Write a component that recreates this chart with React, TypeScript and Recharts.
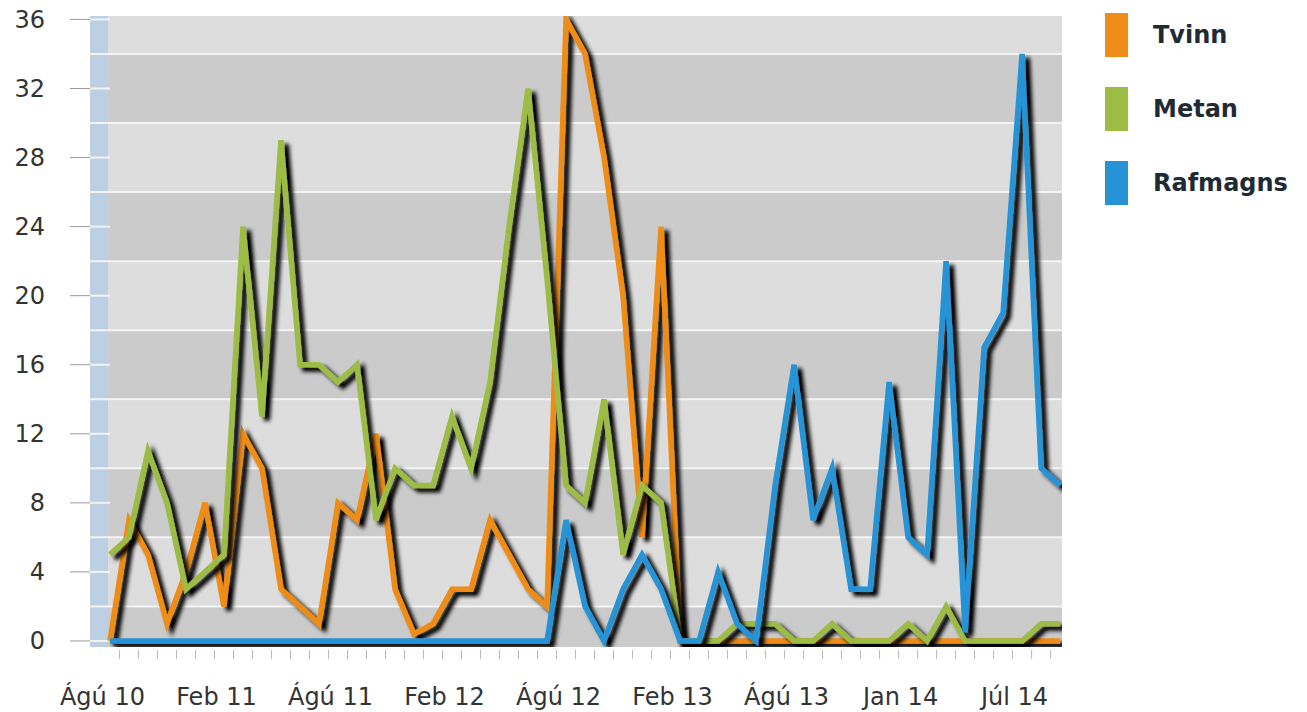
import React from 'react';
import { LineChart, Line, XAxis, YAxis, ReferenceArea, ReferenceLine, Legend } from 'recharts';

const months = [
  'Ágú 10', 'Sep 10', 'Okt 10', 'Nóv 10', 'Des 10', 'Jan 11', 'Feb 11', 'Mar 11', 'Apr 11', 'Maí 11', 'Jún 11', 'Júl 11',
  'Ágú 11', 'Sep 11', 'Okt 11', 'Nóv 11', 'Des 11', 'Jan 12', 'Feb 12', 'Mar 12', 'Apr 12', 'Maí 12', 'Jún 12', 'Júl 12',
  'Ágú 12', 'Sep 12', 'Okt 12', 'Nóv 12', 'Des 12', 'Jan 13', 'Feb 13', 'Mar 13', 'Apr 13', 'Maí 13', 'Jún 13', 'Júl 13',
  'Ágú 13', 'Sep 13', 'Okt 13', 'Nóv 13', 'Des 13', 'Des 13', 'Jan 14', 'Feb 14', 'Mar 14', 'Apr 14', 'Maí 14', 'Jún 14',
  'Júl 14', 'Ágú 14', 'Sep 14',
];

const tvinn = [
  0, 7, 5, 1, 4, 8, 2, 12, 10, 3, 2, 1, 8, 7, 12, 3, 0.4, 1, 3, 3, 7, 5, 3, 2,
  36, 34, 28, 20, 6, 24, 0, 0, 0, 0, 0, 0, 0, 0, 0, 0, 0, 0, 0, 0, 0, 0, 0, 0, 0, 0, 0,
];

const metan = [
  5, 6, 11, 8, 3, 4, 5, 24, 13, 29, 16, 16, 15, 16, 7, 10, 9, 9, 13, 10, 15, 24, 32, 21,
  9, 8, 14, 5, 9, 8, 0, 0, 0, 1, 1, 1, 0, 0, 1, 0, 0, 0, 1, 0, 2, 0, 0, 0, 0, 1, 1,
];

const rafmagns = [
  0, 0, 0, 0, 0, 0, 0, 0, 0, 0, 0, 0, 0, 0, 0, 0, 0, 0, 0, 0, 0, 0, 0, 0,
  7, 2, 0, 3, 5, 3, 0, 0, 4, 1, 0, 9, 16, 7, 10, 3, 3, 15, 6, 5, 22, 0.5, 17, 19, 34, 10, 9,
];

const yTicks = [0, 4, 8, 12, 16, 20, 24, 28, 32, 36];
const bandEdges = [36.2, 34, 30, 26, 22, 18, 14, 10, 6, 2, -0.35];

const series = [
  { key: 'tvinn', name: 'Tvinn', color: '#ef8c17' },
  { key: 'metan', name: 'Metan', color: '#9dbc44' },
  { key: 'rafmagns', name: 'Rafmagns', color: '#2793d6' },
];

const data = months.map((m, i) => ({ i, month: m, tvinn: tvinn[i], metan: metan[i], rafmagns: rafmagns[i] }));
const xTicks = months.map((_, k) => k - 0.5);

const FONT = '"DejaVu Sans", Verdana, sans-serif';

function XTick(props: any) {
  const { x, y, payload } = props;
  const idx = Math.round(payload.value + 0.5);
  return (
    <g>
      {payload.value > 0 && <line x1={x} x2={x} y1={y + 3} y2={y + 12} stroke="#b8b8b8" strokeWidth={1} />}
      {idx % 6 === 0 && (
        <text x={x + 2} y={y + 58} textAnchor="middle" fontSize={24} fill="#333" fontFamily={FONT}>
          {months[idx]}
        </text>
      )}
    </g>
  );
}

const renderLegend = () => (
  <div style={{ fontFamily: FONT }}>
    {series.map((s) => (
      <div key={s.key} style={{ display: 'flex', alignItems: 'center', height: 44, marginBottom: 30 }}>
        <div style={{ width: 23, height: 44, background: s.color }} />
        <span style={{ marginLeft: 25, fontSize: 24, fontWeight: 'bold', color: '#1e2b36' }}>{s.name}</span>
      </div>
    ))}
  </div>
);

export default function App() {
  return (
    <div style={{ position: 'absolute', left: 0, top: 0, width: 1307, height: 712, background: '#fff' }}>
      <LineChart width={1307} height={712} data={data} margin={{ top: 16, right: 245, left: 0, bottom: 5 }}>
        <defs>
          <filter id="shadow" filterUnits="userSpaceOnUse" x="0" y="0" width="1307" height="712">
            <feGaussianBlur in="SourceAlpha" stdDeviation="2.2" />
            <feOffset dx="5" dy="4" result="off" />
            <feComponentTransfer>
              <feFuncA type="linear" slope="1.1" />
            </feComponentTransfer>
            <feMerge>
              <feMergeNode />
              <feMergeNode in="SourceGraphic" />
            </feMerge>
          </filter>
        </defs>
        <XAxis
          type="number"
          dataKey="i"
          domain={[-1.05, 50.1]}
          ticks={xTicks}
          interval={0}
          allowDataOverflow
          axisLine={false}
          tickLine={false}
          tickSize={0}
          tickMargin={0}
          height={60}
          tick={<XTick />}
        />
        <YAxis
          type="number"
          domain={[-0.35, 36.2]}
          ticks={yTicks}
          allowDataOverflow
          width={90}
          axisLine={false}
          tickSize={20}
          tickMargin={25}
          tickLine={{ stroke: '#9a9a9a' }}
          tick={{ fontSize: 24, fill: '#333', fontFamily: FONT }}
        />
        <ReferenceArea x1={-1.05} x2={-0.1} y1={-0.35} y2={36.2} fill="#bccfe3" fillOpacity={1} stroke="none" />
        {bandEdges.slice(0, -1).map((top, k) => (
          <ReferenceArea
            key={`band-${k}`}
            x1={-0.1}
            x2={50.1}
            y1={bandEdges[k + 1]}
            y2={top}
            fill={k % 2 === 0 ? '#dddddd' : '#cbcbcb'}
            fillOpacity={1}
            stroke="none"
          />
        ))}
        {bandEdges.slice(1, -1).map((v) => (
          <ReferenceLine key={`edge-${v}`} y={v} stroke="#f4f4f4" strokeWidth={2} />
        ))}
        {yTicks.map((v) => (
          <ReferenceLine key={`mark-${v}`} segment={[{ x: -1.05, y: v }, { x: 0, y: v }]} stroke="#f4f4f4" strokeWidth={2} />
        ))}
        {series.map((s) => (
          <Line
            key={s.key}
            type="linear"
            dataKey={s.key}
            name={s.name}
            stroke={s.color}
            strokeWidth={5.5}
            dot={false}
            activeDot={false}
            filter="url(#shadow)"
            isAnimationActive={false}
          />
        ))}
        <Legend
          layout="vertical"
          align="center"
          verticalAlign="middle"
          wrapperStyle={{ left: 1105, top: 13, width: 200 }}
          content={renderLegend}
        />
      </LineChart>
    </div>
  );
}
